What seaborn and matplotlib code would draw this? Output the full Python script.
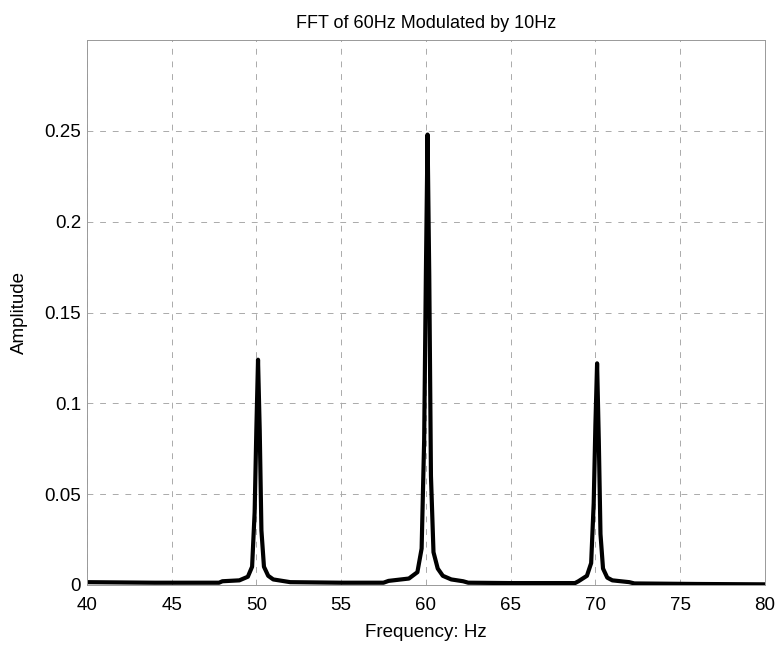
import numpy as np
import pandas as pd
import matplotlib
matplotlib.use("Agg")
import matplotlib.pyplot as plt
import seaborn as sns

# Frequency (Hz) and amplitude
freq = [40.0, 44.0, 47.8, 48.0, 49.0, 49.5, 49.75, 49.9, 50.0, 50.1, 50.2, 50.3, 50.45, 50.7, 51.0, 52.0,
        55.0, 57.5, 57.8, 59.0, 59.5, 59.75, 59.9, 60.0, 60.1, 60.2, 60.3, 60.45, 60.7, 61.0, 61.5, 62.2,
        62.5, 65.0, 68.8, 69.0, 69.5, 69.75, 69.9, 70.0, 70.1, 70.2, 70.3, 70.45, 70.7, 71.0, 72.0, 72.3,
        76.0, 80.0]
amp = [0.0015, 0.0012, 0.0012, 0.0020, 0.0025, 0.0045, 0.010, 0.040, 0.085, 0.124, 0.085, 0.030, 0.010, 0.005, 0.003, 0.0015,
       0.0012, 0.0012, 0.0022, 0.0035, 0.0070, 0.020, 0.080, 0.170, 0.248, 0.170, 0.060, 0.018, 0.009, 0.005, 0.003, 0.0020,
       0.0012, 0.0010, 0.0010, 0.0020, 0.0050, 0.012, 0.045, 0.088, 0.122, 0.080, 0.028, 0.009, 0.004, 0.0025, 0.0015, 0.0008,
       0.0005, 0.0003]

x_ticks = [40, 45, 50, 55, 60, 65, 70, 75, 80]
y_ticks = [0, 0.05, 0.1, 0.15, 0.2, 0.25]
y_labels = ["0", "0.05", "0.1", "0.15", "0.2", "0.25"]

sns.set_style("white")
plt.rcParams['font.family'] = ['Liberation Sans', 'DejaVu Sans']
plt.rcParams['text.color'] = 'black'
plt.rcParams['axes.labelcolor'] = 'black'

df = pd.DataFrame({"Frequency": freq, "Amplitude": amp})

fig = plt.figure(figsize=(7.75, 6.47), dpi=100)
ax = fig.add_axes([0.112, 0.096, 0.875, 0.842])
sns.lineplot(data=df, x="Frequency", y="Amplitude", ax=ax, color="black", linewidth=3.0)

ax.set_xlim(40, 80)
ax.set_ylim(0, 0.3)
ax.set_xticks(x_ticks)
ax.set_xticklabels([str(t) for t in x_ticks])
ax.set_yticks(y_ticks)
ax.set_yticklabels(y_labels)
ax.grid(True, linestyle=(0, (6, 7)), color="#aaaaaa", linewidth=0.7)
for s in ax.spines.values():
    s.set_color("#999999")
    s.set_linewidth(0.7)
ax.tick_params(axis="y", labelsize=13.5, colors="black", length=0, pad=4)
ax.tick_params(axis="x", labelsize=13.5, colors="black", length=0, pad=9)
ax.set_xlabel("Frequency: Hz", fontsize=13.5, labelpad=7, color="black")
ax.set_ylabel("Amplitude", fontsize=13.5, labelpad=12, color="black")
ax.set_title("FFT of 60Hz Modulated by 10Hz", fontsize=13, pad=9, color="black")

fig.savefig("out.png", dpi=100)
